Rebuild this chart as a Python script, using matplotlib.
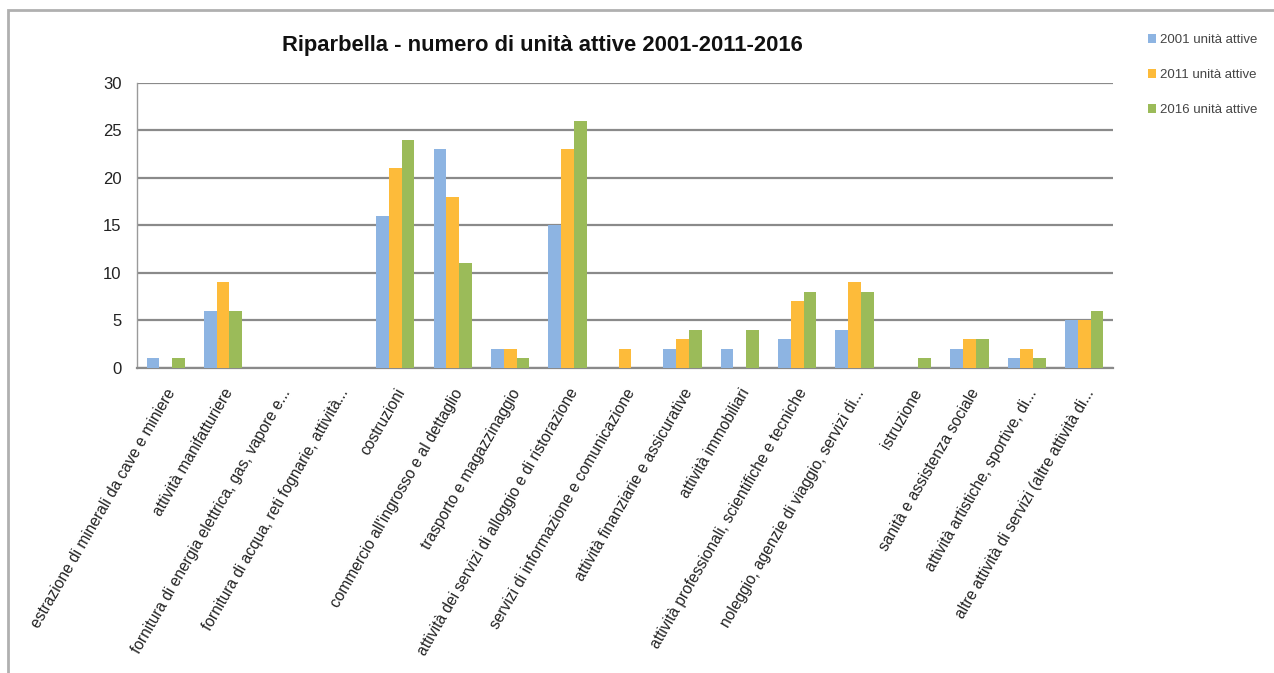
import matplotlib.pyplot as plt
import numpy as np
from matplotlib.patches import Rectangle

categorie = [
    "estrazione di minerali da cave e miniere",
    "attività manifatturiere",
    "fornitura di energia elettrica, gas, vapore e...",
    "fornitura di acqua, reti fognarie, attività...",
    "costruzioni",
    "commercio all'ingrosso e al dettaglio",
    "trasporto e magazzinaggio",
    "attività dei servizi di alloggio e di ristorazione",
    "servizi di informazione e comunicazione",
    "attività finanziarie e assicurative",
    "attività immobiliari",
    "attività professionali, scientifiche e tecniche",
    "noleggio, agenzie di viaggio, servizi di...",
    "istruzione",
    "sanità e assistenza sociale",
    "attività artistiche, sportive, di...",
    "altre attività di servizi (altre attività di...",
]
unita_2001 = [1, 6, 0, 0, 16, 23, 2, 15, 0, 2, 2, 3, 4, 0, 2, 1, 5]
unita_2011 = [0, 9, 0, 0, 21, 18, 2, 23, 2, 3, 0, 7, 9, 0, 3, 2, 5]
unita_2016 = [1, 6, 0, 0, 24, 11, 1, 26, 0, 4, 4, 8, 8, 1, 3, 1, 6]
serie = ["2001 unità attive", "2011 unità attive", "2016 unità attive"]
colori = ["#8db4e2", "#fdbb3a", "#9bbb59"]

plt.rcParams["font.family"] = ["Liberation Sans", "DejaVu Sans"]

fig = plt.figure(figsize=(12.74, 6.73), dpi=100)
ax = fig.add_axes([0.1075, 0.4532, 0.7661, 0.4235])

x = np.arange(len(categorie))
w = 1 / 4.5
for i, (vals, lab, col) in enumerate(zip([unita_2001, unita_2011, unita_2016], serie, colori)):
    ax.bar(x + (i - 1) * w, vals, width=w, color=col, label=lab, zorder=3)

ax.set_xlim(-0.5, len(categorie) - 0.5)
ax.set_ylim(0, 30)
ax.set_yticks(range(0, 31, 5))
ax.yaxis.grid(True, color="#8a8a8a", linewidth=1.6, zorder=0)
ax.set_axisbelow(True)
for s in ["right", "top"]:
    ax.spines[s].set_visible(False)
ax.spines["left"].set_color("#9a9a9a")
ax.spines["left"].set_linewidth(1.0)
ax.spines["bottom"].set_color("#8a8a8a")
ax.spines["bottom"].set_linewidth(1.6)
ax.tick_params(axis="y", length=0, labelsize=12, pad=11, labelcolor="#222222")
ax.tick_params(axis="x", length=0, pad=13)
ax.set_xticks(x)
ax.set_xticklabels(categorie, rotation=60, ha="right", rotation_mode="anchor",
                   fontsize=11.2, color="#222222")

fig.text(0.4255, 0.933, "Riparbella - numero di unità attive 2001-2011-2016",
         ha="center", va="center", fontsize=15.8, fontweight="bold", color="#111111")

fig.legend(loc="upper left", bbox_to_anchor=(0.892, 0.967), frameon=False,
           fontsize=9.5, handlelength=0.6, handleheight=0.6, handletextpad=0.3,
           labelspacing=1.75, labelcolor="#444444")

# cornice grigia
fig.add_artist(Rectangle((0.006, -0.05), 1.1, 1.035, transform=fig.transFigure,
                         fill=False, edgecolor="#b0b0b0", linewidth=2))

fig.savefig("out.png", dpi=100)
